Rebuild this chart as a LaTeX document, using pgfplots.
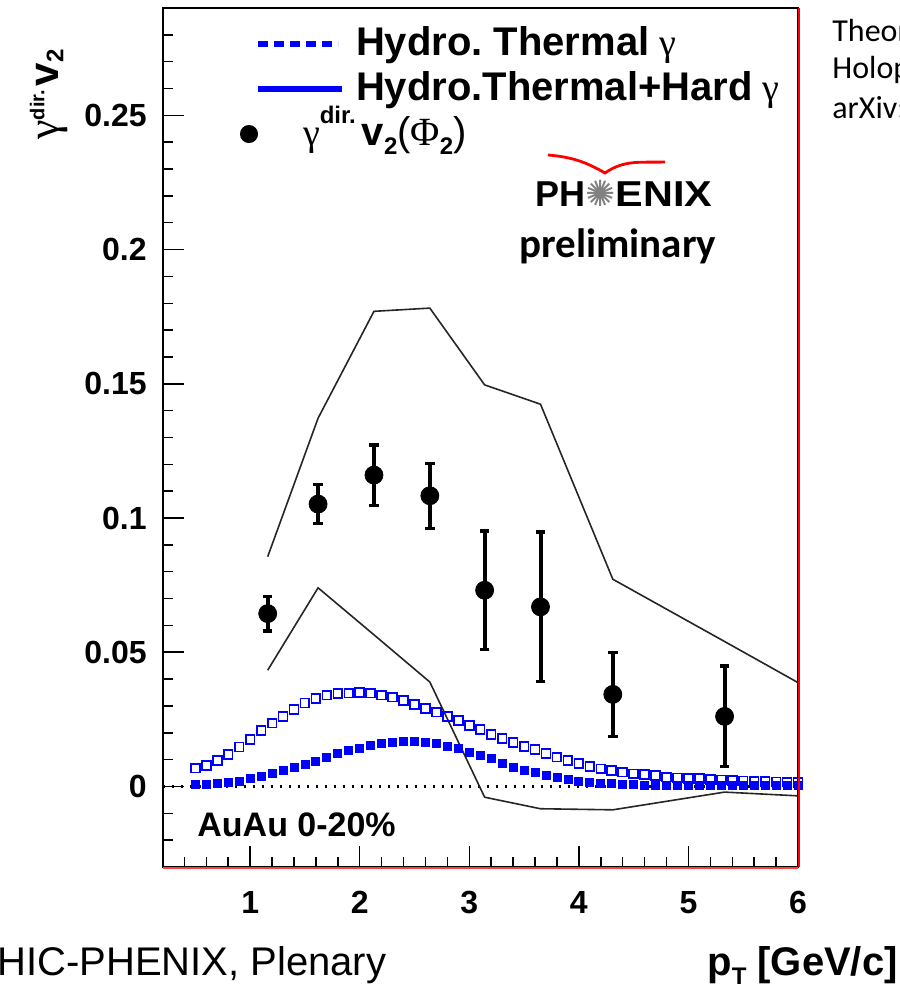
\documentclass[border=0pt]{standalone}
\usepackage{pgfplots}
\pgfplotsset{compat=1.18}
\usepackage{graphicx}
\usepackage{fontspec}
\setmainfont{Liberation Sans}
\newfontfamily\greek{Liberation Serif}
\newfontfamily\calibri{Carlito}
\newfontfamily\dejavu{DejaVu Sans}

\pgfplotstableread{
x y
0.5 0.0068
0.6 0.0078
0.7 0.0097
0.8 0.0119
0.9 0.0147
1.0 0.0175
1.1 0.0209
1.2 0.0236
1.3 0.0261
1.4 0.0287
1.5 0.0311
1.6 0.0327
1.7 0.0340
1.8 0.0346
1.9 0.0348
2.0 0.0350
2.1 0.0348
2.2 0.0340
2.3 0.0333
2.4 0.0321
2.5 0.0305
2.6 0.0290
2.7 0.0277
2.8 0.0261
2.9 0.0246
3.0 0.0228
3.1 0.0212
3.2 0.0194
3.3 0.0178
3.4 0.0163
3.5 0.0149
3.6 0.0137
3.7 0.0122
3.8 0.0109
3.9 0.0097
4.0 0.0085
4.1 0.0075
4.2 0.0066
4.3 0.0060
4.4 0.0053
4.5 0.0047
4.6 0.0044
4.7 0.0040
4.8 0.0035
4.9 0.0032
5.0 0.0030
5.1 0.0029
5.2 0.0026
5.3 0.0024
5.4 0.0022
5.5 0.0021
5.6 0.0020
5.7 0.0019
5.8 0.0017
5.9 0.0016
6.0 0.0016
}\openSq

\pgfplotstableread{
x y
0.5 0.0006
0.6 0.0008
0.7 0.0010
0.8 0.0014
0.9 0.0020
1.0 0.0029
1.1 0.0037
1.2 0.0047
1.3 0.0060
1.4 0.0072
1.5 0.0082
1.6 0.0093
1.7 0.0109
1.8 0.0122
1.9 0.0134
2.0 0.0143
2.1 0.0153
2.2 0.0159
2.3 0.0165
2.4 0.0169
2.5 0.0169
2.6 0.0165
2.7 0.0159
2.8 0.0149
2.9 0.0141
3.0 0.0128
3.1 0.0116
3.2 0.0103
3.3 0.0086
3.4 0.0072
3.5 0.0061
3.6 0.0051
3.7 0.0042
3.8 0.0033
3.9 0.0026
4.0 0.0020
4.1 0.0016
4.2 0.0012
4.3 0.0010
4.4 0.0008
4.5 0.0006
4.6 0.0005
4.7 0.0005
4.8 0.0005
4.9 0.0004
5.0 0.0004
5.1 0.0004
5.2 0.0004
5.3 0.0004
5.4 0.0004
5.5 0.0004
5.6 0.0004
5.7 0.0004
5.8 0.0004
5.9 0.0004
6.0 0.0004
}\fullSq

\begin{document}
\frenchspacing
\begin{tikzpicture}
\useasboundingbox (0,0) rectangle (450pt,496pt);
\begin{axis}[
  at={(81.25pt,62.5pt)}, anchor=south west,
  scale only axis, width=317.75pt, height=429.5pt,
  xmin=0.2, xmax=6, ymin=-0.03, ymax=0.29,
  axis line style={line width=1pt},
  xtick={1,2,3,4,5,6}, xticklabels={1,2,3,4,5,6},
  ytick={0,0.05,0.1,0.15,0.2,0.25}, yticklabels={0,0.05,0.1,0.15,0.2,0.25},
  minor xtick={0.4,0.6,...,5.9},
  minor ytick={-0.02,-0.01,...,0.285},
  tick align=inside, xtick pos=left, ytick pos=left,
  major tick length=10.5pt, minor tick length=5pt,
  every tick/.style={black, line width=0.75pt},
  tick label style={font=\bfseries\fontsize{16}{16}\selectfont, inner sep=0pt},
  yticklabel style={xshift=-7.75pt},
  xticklabel style={yshift=-12pt},
  clip mode=individual,
  legend cell align=left,
  legend style={at={(axis description cs:0.1226,0.979)}, anchor=north west,
    draw=none, fill=none, inner sep=0pt, outer sep=0pt,
    row sep=4.5pt, column sep=5.5pt,
    font=\bfseries\fontsize{20}{24}\selectfont,
    nodes={inner sep=0pt, text height=14.5pt, text depth=3.5pt}},
]
% zero line
\addplot[black, line width=1.1pt, dash pattern=on 1.1pt off 3.4pt, forget plot] coordinates {(0.2,0) (6,0)};
% theory band edges
\addplot[black!85, line width=0.8pt, forget plot] coordinates {
(1.16,0.0856) (1.62,0.1372) (2.13,0.1770) (2.64,0.1782) (3.14,0.1496) (3.65,0.1424) (4.31,0.0772) (5.33,0.0540) (6.0,0.0387)};
\addplot[black!85, line width=0.8pt, forget plot] coordinates {
(1.16,0.0433) (1.62,0.0740) (2.13,0.0565) (2.64,0.0389) (3.14,-0.0040) (3.65,-0.0083) (4.31,-0.0087) (5.33,-0.0021) (6.0,-0.0035)};
% hydro squares
\addplot[only marks, mark=square, mark size=2.2pt, mark options={draw=blue, line width=0.85pt, fill=white}, forget plot] table[x=x,y=y] {\openSq};
\addplot[only marks, mark=square*, mark size=2.0pt, mark options={draw=blue, fill=blue}, forget plot] table[x=x,y=y] {\fullSq};
% data
\addplot[only marks, mark=*, mark size=4.5pt, black, forget plot,
  error bars/.cd, y dir=both, y explicit,
  error bar style={line width=2pt},
  error mark options={rotate=90, mark size=2.4pt, line width=1.6pt}]
  coordinates {
  (1.16,0.0644) +- (0,0.0065)
  (1.62,0.1052) +- (0,0.0072)
  (2.13,0.1160) +- (0,0.0112)
  (2.64,0.1083) +- (0,0.0121)
  (3.14,0.0731) +- (0,0.0221)
  (3.65,0.0669) +- (0,0.0279)
  (4.31,0.0343) +- (0,0.0157)
  (5.33,0.0261) +- (0,0.0188)
  };
% red edges
\draw[red, line width=1.1pt] ([xshift=0.6pt]rel axis cs:1,0) -- ([xshift=0.6pt]rel axis cs:1,1);
\draw[red!75, line width=0.9pt] ([yshift=-0.7pt]rel axis cs:0,0) -- ([yshift=-0.7pt]rel axis cs:1,0);
% legend
\addlegendimage{blue, legend image code/.code={\draw[blue, line width=3pt, dash pattern=on 5pt off 3pt] (0pt,0pt) -- (40pt,0pt);}}
\addlegendentry{Hydro.\ Thermal\hspace{5pt}{\mdseries\greek\fontsize{19}{19}\selectfont γ}}
\addlegendimage{blue, legend image code/.code={\draw[blue, line width=3pt] (0pt,0pt) -- (42pt,0pt);}}
\addlegendentry{Hydro.Thermal+Hard\hspace{5pt}{\mdseries\greek\fontsize{19}{19}\selectfont γ}}
\addlegendimage{black, legend image code/.code={\draw[black, fill=black] plot[only marks, mark=*, mark size=4.3pt] coordinates {(-4.5pt,0pt)};}}
\addlegendentry{\hspace*{-26.5pt}{\mdseries\greek\fontsize{19}{19}\selectfont γ}\raisebox{1.0ex}{\fontsize{12}{12}\selectfont dir.}\hspace{3pt}{\fontsize{20}{20}\selectfont v}\raisebox{-0.45ex}{\fontsize{12}{12}\selectfont 2}{\mdseries(\greek Φ}\raisebox{-0.45ex}{\fontsize{12}{12}\selectfont 2}{\mdseries)}}
\end{axis}

% y label
\node[rotate=90, anchor=base west, inner sep=0pt] at (29pt,426pt)
  {{\greek\fontsize{22}{22}\selectfont γ}\raisebox{1.3ex}{\bfseries\fontsize{10}{10}\selectfont dir.}\hspace{2pt}{\bfseries\fontsize{21}{21}\selectfont v}\raisebox{-0.5ex}{\bfseries\fontsize{12}{12}\selectfont 2}};
% x label
\node[anchor=base east, inner sep=0pt, font=\bfseries\fontsize{20}{20}\selectfont] at (449pt,8.5pt)
  {p\raisebox{-0.45ex}{\fontsize{12}{12}\selectfont T} [GeV/c]};
% bottom-left caption
\node[anchor=base west, inner sep=0pt, font=\fontsize{20}{20}\selectfont] at (-1.5pt,8.5pt) {HIC-PHENIX, Plenary};
% right-side text (cut by the page edge, as in the reference)
\node[anchor=base west, inner sep=0pt, font=\calibri\fontsize{16}{16}\selectfont] at (416pt,475.25pt) {Theor};
\node[anchor=base west, inner sep=0pt, font=\calibri\fontsize{16}{16}\selectfont] at (416pt,456.5pt) {Holop};
\node[anchor=base west, inner sep=0pt, font=\calibri\fontsize{16}{16}\selectfont] at (416pt,436.5pt) {arXiv:};
% PHENIX logo
\draw[red, line width=1.4pt] (274pt,418.5pt) to[out=-5,in=150] (302.5pt,409.5pt) to[out=35,in=182] (332.5pt,415pt);
\node[anchor=base west, inner sep=0pt, font=\bfseries\fontsize{18}{18}\selectfont] at (267.5pt,392.5pt)
  {PH{\dejavu\mdseries\color{gray}✺}\scalebox{1.15}[1]{ENIX}};
\node[anchor=base west, inner sep=0pt, font=\calibri\bfseries\fontsize{20.5}{20.5}\selectfont] at (259.5pt,367pt) {preliminary};
% system label
\node[anchor=base west, inner sep=0pt, font=\bfseries\fontsize{17}{17}\selectfont] at (98.5pt,77.5pt) {AuAu 0-20\%};
\end{tikzpicture}
\end{document}
